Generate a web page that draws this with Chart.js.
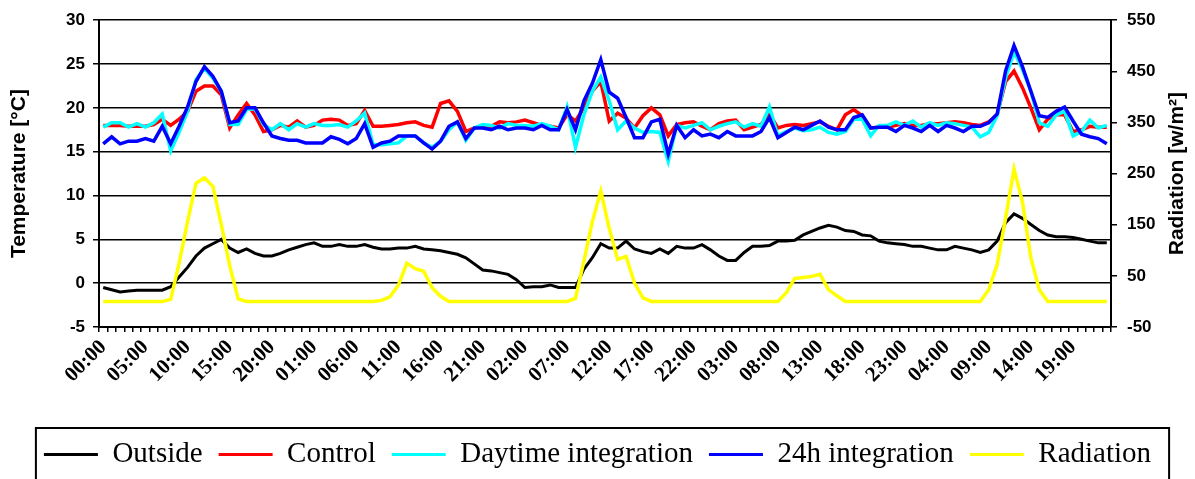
<!DOCTYPE html>
<html>
<head>
<meta charset="utf-8">
<script src="https://cdn.jsdelivr.net/npm/chart.js@4.4.1/dist/chart.umd.min.js"></script>
<style>
  html, body { margin: 0; padding: 0; background: #fff; }
  #wrap { width: 1195px; height: 479px; }
</style>
</head>
<body>
<div id="wrap"><canvas id="c" width="1195" height="479"></canvas></div>
<script>
// Hourly categories over five days
const hours = [
  '00:00','01:00','02:00','03:00','04:00','05:00','06:00','07:00','08:00','09:00','10:00','11:00',
  '12:00','13:00','14:00','15:00','16:00','17:00','18:00','19:00','20:00','21:00','22:00','23:00',
  '00:00','01:00','02:00','03:00','04:00','05:00','06:00','07:00','08:00','09:00','10:00','11:00',
  '12:00','13:00','14:00','15:00','16:00','17:00','18:00','19:00','20:00','21:00','22:00','23:00',
  '00:00','01:00','02:00','03:00','04:00','05:00','06:00','07:00','08:00','09:00','10:00','11:00',
  '12:00','13:00','14:00','15:00','16:00','17:00','18:00','19:00','20:00','21:00','22:00','23:00',
  '00:00','01:00','02:00','03:00','04:00','05:00','06:00','07:00','08:00','09:00','10:00','11:00',
  '12:00','13:00','14:00','15:00','16:00','17:00','18:00','19:00','20:00','21:00','22:00','23:00',
  '00:00','01:00','02:00','03:00','04:00','05:00','06:00','07:00','08:00','09:00','10:00','11:00',
  '12:00','13:00','14:00','15:00','16:00','17:00','18:00','19:00','20:00','21:00','22:00','23:00'
];
// Every fifth hour carries a printed label
const labelEvery = 5;

// Temperatures [°C]
const outside = [
  -0.5,-0.75,-1.0,-0.9,-0.8,-0.8,-0.8,-0.8,-0.4,0.7,
  1.8,3.1,4.0,4.5,5.0,4.0,3.5,3.9,3.4,3.1,
  3.1,3.4,3.8,4.1,4.4,4.6,4.2,4.2,4.4,4.2,
  4.2,4.4,4.1,3.9,3.9,4.0,4.0,4.2,3.9,3.8,
  3.7,3.5,3.3,2.9,2.2,1.5,1.4,1.2,1.0,0.4,
  -0.5,-0.4,-0.4,-0.2,-0.5,-0.5,-0.5,1.6,2.9,4.5,
  4.0,4.0,4.8,3.9,3.6,3.4,3.9,3.4,4.2,4.0,
  4.0,4.4,3.8,3.1,2.6,2.6,3.5,4.2,4.2,4.3,
  4.8,4.8,4.9,5.5,5.9,6.3,6.6,6.4,6.0,5.9,
  5.5,5.4,4.8,4.6,4.5,4.4,4.2,4.2,4.0,3.8,
  3.8,4.2,4.0,3.8,3.5,3.8,4.8,6.9,7.9,7.4,
  6.7,6.0,5.5,5.3,5.3,5.2,5.0,4.8,4.6,4.6
];
const control = [
  18.0,18.0,18.0,17.9,17.9,17.9,18.1,18.7,18.0,18.7,
  19.6,21.9,22.5,22.5,21.5,17.7,19.2,20.5,19.2,17.3,
  17.5,18.0,17.8,18.5,17.8,18.0,18.6,18.7,18.6,18.0,
  18.2,19.7,17.9,17.9,18.0,18.1,18.3,18.4,18.0,17.8,
  20.5,20.8,19.6,17.3,17.7,17.9,17.9,18.4,18.3,18.4,
  18.6,18.3,18.0,17.9,17.7,19.2,18.5,20.0,21.9,23.0,
  18.5,19.4,18.8,17.7,19.1,20.0,19.2,16.8,18.1,18.3,
  18.4,17.9,17.5,18.2,18.5,18.6,17.5,17.8,18.1,19.3,
  17.7,18.0,18.1,18.0,18.2,18.4,17.9,17.5,19.2,19.8,
  19.1,17.7,17.8,17.8,18.0,18.2,18.0,18.0,18.2,18.2,
  18.3,18.4,18.3,18.1,18.0,18.4,19.2,23.0,24.2,22.3,
  20.0,17.5,18.7,19.2,19.2,17.3,17.5,17.9,17.8,17.8
];
const daytimeIntegration = [
  17.8,18.3,18.3,17.8,18.2,17.8,18.3,19.3,15.1,17.2,
  19.6,23.2,24.5,23.4,21.9,18.1,18.1,19.8,19.9,18.1,
  17.5,18.2,17.5,18.2,17.8,18.2,18.0,18.0,18.1,17.8,
  18.5,19.4,15.8,15.8,15.9,16.0,16.8,16.8,16.0,15.5,
  16.2,17.5,18.4,16.3,17.7,18.1,18.0,17.7,18.2,18.0,
  18.0,17.9,18.2,17.9,17.5,20.1,15.5,19.2,21.9,23.5,
  20.8,17.5,18.5,17.7,17.2,17.3,17.2,13.9,18.0,17.7,
  18.0,18.3,17.5,17.9,18.2,18.4,17.8,18.2,17.9,20.1,
  16.8,17.3,17.7,17.4,17.5,17.8,17.2,17.0,17.3,18.7,
  18.7,16.8,18.0,18.0,18.4,18.0,18.5,17.8,18.3,18.0,
  18.3,18.2,18.0,17.8,16.7,17.2,19.1,23.4,26.4,24.4,
  21.9,18.3,17.9,19.2,19.6,16.8,17.3,18.6,17.7,18.0
];
const integration24h = [
  15.9,16.7,15.9,16.2,16.2,16.5,16.2,17.9,15.9,17.9,
  20.1,23.0,24.7,23.6,21.9,18.3,18.5,20.0,20.0,18.3,
  16.8,16.5,16.3,16.3,16.0,16.0,16.0,16.7,16.4,15.9,
  16.5,18.2,15.5,16.0,16.2,16.8,16.8,16.8,16.0,15.3,
  16.2,17.9,18.4,16.5,17.7,17.7,17.5,17.9,17.5,17.7,
  17.7,17.5,18.0,17.5,17.5,19.8,17.5,20.8,22.8,25.5,
  21.8,21.1,18.9,16.6,16.6,18.4,18.7,14.7,18.0,16.6,
  17.5,16.8,17.0,16.6,17.3,16.8,16.8,16.8,17.3,18.9,
  16.6,17.2,17.8,17.5,18.0,18.5,17.8,17.5,17.5,18.9,
  19.2,17.7,17.8,17.8,17.3,18.0,17.7,17.3,18.0,17.3,
  18.0,17.7,17.3,17.9,17.9,18.3,19.3,24.2,27.1,24.7,
  21.9,19.1,18.9,19.6,20.1,18.5,17.0,16.7,16.5,15.9
];
// Global radiation [w/m²]
const radiation = [
  0,0,0,0,0,0,0,0,4,75,
  156,231,242,225,150,70,5,0,0,0,
  0,0,0,0,0,0,0,0,0,0,
  0,0,0,2,9,32,75,64,59,27,
  10,0,0,0,0,0,0,0,0,0,
  0,0,0,0,0,0,6,79,156,216,
  143,82,88,36,7,0,0,0,0,0,
  0,0,0,0,0,0,0,0,0,0,
  0,17,45,47,49,53,23,11,0,0,
  0,0,0,0,0,0,0,0,0,0,
  0,0,0,0,0,23,72,163,259,195,
  85,23,0,0,0,0,0,0,0,0
];

const axisFont = { family: 'Liberation Sans', weight: 'bold', size: 17 };
const titleFont = { family: 'Liberation Sans', weight: 'bold', size: 21 };

// Right-hand axis caption, read bottom to top like the left one
const rightTitle = {
  id: 'rightTitle',
  afterDraw(chart) {
    const { ctx, chartArea } = chart;
    ctx.save();
    ctx.translate(1177, (chartArea.top + chartArea.bottom) / 2);
    ctx.rotate(-Math.PI / 2);
    ctx.font = 'bold 21px "Liberation Sans"';
    ctx.fillStyle = '#000';
    ctx.textAlign = 'center';
    ctx.textBaseline = 'middle';
    ctx.fillText('Radiation [w/m²]', 0, 0);
    ctx.restore();
  }
};

// Frame around the legend row
const legendFrame = {
  id: 'legendFrame',
  afterDraw(chart) {
    const lg = chart.legend;
    if (!lg || !lg.legendHitBoxes.length) return;
    const boxes = lg.legendHitBoxes;
    const left = Math.min(...boxes.map(b => b.left)) - 8;
    const right = Math.max(...boxes.map(b => b.left + b.width)) + 18;
    const top = lg.top + 4;
    const { ctx } = chart;
    ctx.save();
    ctx.strokeStyle = '#000';
    ctx.lineWidth = 2;
    ctx.strokeRect(left, top, right - left, chart.height - top + 10);
    ctx.restore();
  }
};

function line(label, data, color, width, axis, order) {
  return {
    label, data, yAxisID: axis, order,
    borderColor: color, backgroundColor: color,
    borderWidth: width, pointRadius: 0, tension: 0, fill: false
  };
}

new Chart(document.getElementById('c'), {
  type: 'line',
  data: {
    labels: hours,
    datasets: [
      line('Outside', outside, '#000000', 3, 'y', 5),
      line('Control', control, '#ff0000', 3.5, 'y', 4),
      line('Daytime integration', daytimeIntegration, '#00ffff', 3.5, 'y', 3),
      line('24h integration', integration24h, '#0000ff', 3.5, 'y', 2),
      line('Radiation', radiation, '#ffff00', 3.5, 'y2', 1)
    ]
  },
  options: {
    responsive: false,
    animation: false,
    layout: { padding: { top: 18, left: 0, right: 0, bottom: 0 } },
    scales: {
      x: {
        type: 'category',
        offset: true,
        grid: { display: true, drawOnChartArea: false, drawTicks: true, tickLength: 5, offset: true, color: '#000', lineWidth: 1.5 },
        border: { display: true, color: '#000', width: 2 },
        ticks: {
          autoSkip: false, minRotation: 45, maxRotation: 45, padding: 3,
          color: '#000',
          font: { family: 'Liberation Serif', weight: 'bold', size: 21 },
          callback: (v, i) => (i % labelEvery === 0 ? hours[i] : '')
        },
        afterFit(s) { s.height = 97; }
      },
      y: {
        position: 'left',
        min: -5, max: 30,
        ticks: { stepSize: 5, color: '#000', font: axisFont, padding: 8 },
        grid: { color: '#000', lineWidth: 1.5, drawTicks: true, tickLength: 6 },
        border: { display: true, color: '#000', width: 2 },
        title: { display: true, text: 'Temperature [°C]', color: '#000', font: titleFont, padding: { top: 7, bottom: 0 } },
        afterFit(s) { s.width = 99; }
      },
      y2: {
        position: 'right',
        min: -50, max: 550,
        ticks: { stepSize: 100, color: '#000', font: axisFont, padding: 10 },
        grid: { drawOnChartArea: false, drawTicks: true, tickLength: 6, color: '#000', lineWidth: 1.5 },
        border: { display: true, color: '#000', width: 2 },
        afterFit(s) { s.width = 84; }
      }
    },
    plugins: {
      tooltip: { enabled: false },
      legend: {
        position: 'bottom',
        labels: {
          color: '#000',
          font: { family: 'Liberation Serif', size: 29 },
          boxWidth: 54, boxHeight: 3, padding: 16,
          sort: (a, b) => a.datasetIndex - b.datasetIndex,
          generateLabels(chart) {
            return Chart.defaults.plugins.legend.labels.generateLabels(chart)
              .map(it => Object.assign(it, { lineWidth: 0 }));
          }
        }
      }
    }
  },
  plugins: [rightTitle, legendFrame]
});
</script>
</body>
</html>
